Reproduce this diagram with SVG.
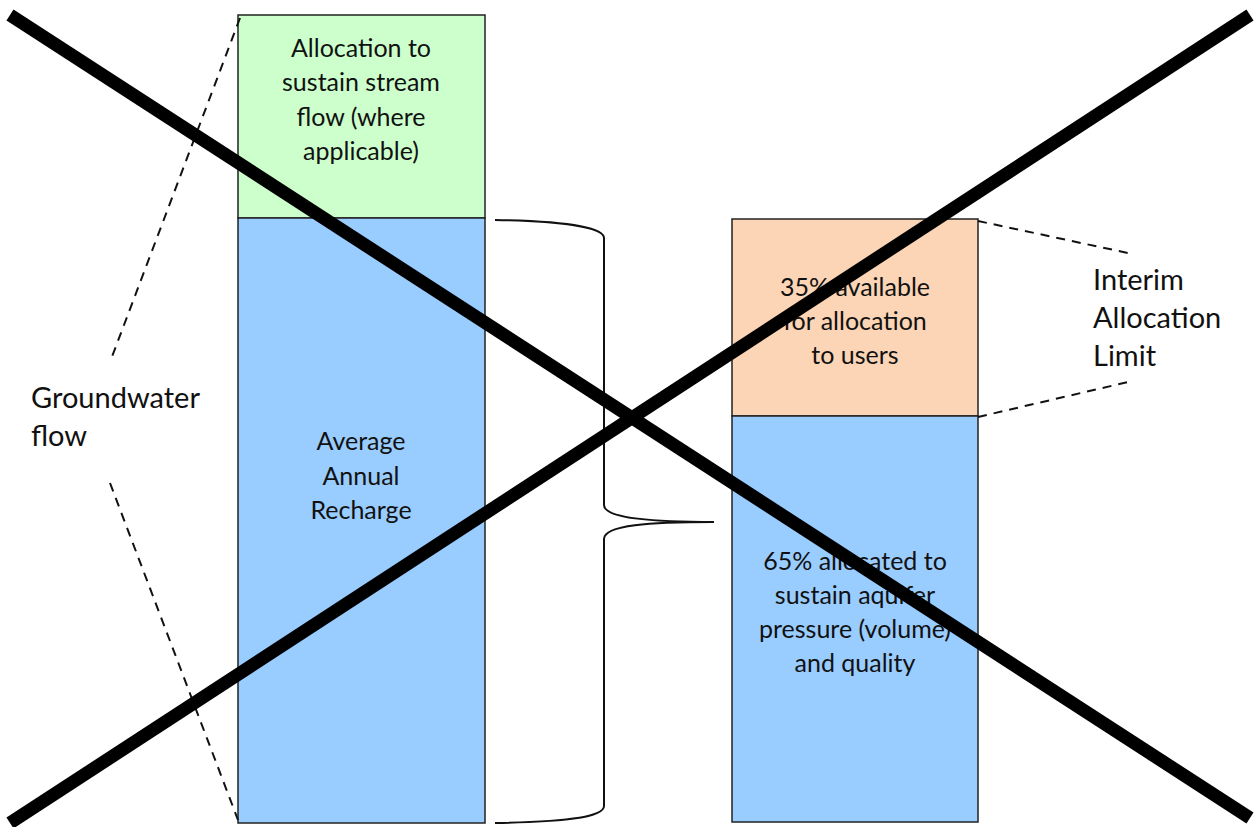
<svg xmlns="http://www.w3.org/2000/svg" width="1256" height="827" viewBox="0 0 1256 827">
<style>
.box{stroke:#222;stroke-width:1.5}
.t{font-family:Lato,"Liberation Sans",sans-serif;font-size:25px;fill:#111;text-anchor:middle}
.lbl{font-family:Lato,"Liberation Sans",sans-serif;font-size:29px;fill:#111}
.dash{fill:none;stroke:#111;stroke-width:2;stroke-dasharray:9 7}
.x{stroke:#000;stroke-width:13;stroke-linecap:butt}
</style>
<rect width="1256" height="827" fill="#fff"/>
<g id="stream">
<rect class="box" x="238" y="15" width="247" height="203" fill="#CCFFCC"/>
<text class="t" x="361" y="57">Allocation to</text>
<text class="t" x="361" y="91">sustain stream</text>
<text class="t" x="361" y="126">flow (where</text>
<text class="t" x="361" y="160">applicable)</text>
</g>
<g id="recharge">
<rect class="box" x="238" y="218" width="247" height="605" fill="#99CCFF"/>
<text class="t" x="361" y="450">Average</text>
<text class="t" x="361" y="485">Annual</text>
<text class="t" x="361" y="519">Recharge</text>
</g>
<g id="available">
<rect class="box" x="732" y="219" width="246" height="197" fill="#FBD5B5"/>
<text class="t" x="855" y="296">35% available</text>
<text class="t" x="855" y="330">for allocation</text>
<text class="t" x="855" y="364">to users</text>
</g>
<g id="sustain">
<rect class="box" x="732" y="416" width="246" height="406" fill="#99CCFF"/>
<text class="t" x="855" y="570">65% allocated to</text>
<text class="t" x="855" y="604">sustain aquifer</text>
<text class="t" x="855" y="638">pressure (volume)</text>
<text class="t" x="855" y="672">and quality</text>
</g>
<g id="groundwater">
<text class="lbl" x="31" y="408">Groundwater</text>
<text class="lbl" x="31" y="446">flow</text>
</g>
<g id="interim">
<text class="lbl" x="1093" y="290">Interim</text>
<text class="lbl" x="1093" y="328">Allocation</text>
<text class="lbl" x="1093" y="366">Limit</text>
</g>
<g id="connectors">
<path class="dash" d="M240 18 L110 362"/>
<path class="dash" d="M110 483 L238 820"/>
<path class="dash" d="M978 221 L1128 253"/>
<path class="dash" d="M978 417 L1128 382"/>
<path d="M495 220 C560 221 604 227 604 238 L604 505 C604 518 650 522 714 522 C650 522 604 525 604 539 L604 806 C604 818 560 822 495 823" fill="none" stroke="#111" stroke-width="2"/>
</g>
<g id="cross">
<line class="x" x1="10" y1="15" x2="1250" y2="818"/>
<line class="x" x1="10" y1="823" x2="1250" y2="15"/>
</g>
</svg>
